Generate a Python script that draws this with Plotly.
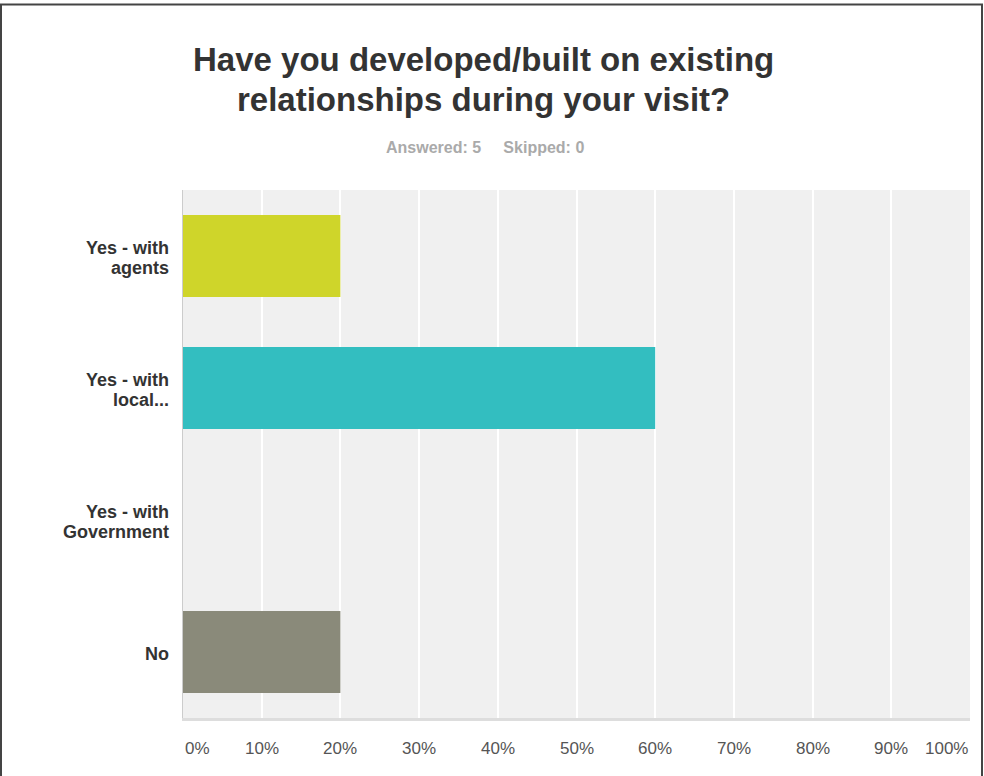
import plotly.graph_objects as go

categories = ["Yes - with<br>agents", "Yes - with<br>local...", "Yes - with<br>Government", "No"]
values = [20, 60, 0, 20]
bar_colors = ["#cfd52a", "#33bec0", "#cccccc", "#8a8a7a"]
tick_vals = [0, 10, 20, 30, 40, 50, 60, 70, 80, 90, 100]
tick_text = ["0%", "10%", "20%", "30%", "40%", "50%", "60%", "70%", "80%", "90%", "100%"]
title_lines = ["Have you developed/built on existing", "relationships during your visit?"]
subtitle = "Answered: 5&nbsp;&nbsp;&nbsp;&nbsp;&nbsp;Skipped: 0"

W, H = 984, 776
ML, MR, MT, MB = 183, 14, 190, 58
PW = W - ML - MR
PH = H - MT - MB
FONT = "Liberation Sans, Arial"


def py(pix_y):
    """convert a page pixel y to paper coordinate"""
    return (H - MB - pix_y) / PH


fig = go.Figure()
fig.add_trace(go.Bar(
    x=values, y=categories, orientation="h",
    marker=dict(color=bar_colors, line=dict(width=0)),
    hoverinfo="x+y",
))

annotations = []
# x tick labels (first/last kept inside the plot width)
for v, t in zip(tick_vals, tick_text):
    anchor = "left" if v == tick_vals[0] else ("right" if v == tick_vals[-1] else "center")
    annotations.append(dict(
        x=v, y=py(748), xref="x", yref="paper", text=t, showarrow=False,
        xanchor=anchor, yanchor="middle",
        font=dict(family=FONT, size=17, color="#555555"),
    ))

# y category labels with tight line spacing
for cat in categories:
    lines = cat.split("<br>")
    n = len(lines)
    for i, ln in enumerate(lines):
        shift = ((n - 1) / 2 - i) * 20 - 2
        annotations.append(dict(
            x=0, y=cat, xref="paper", yref="y", text="<b>" + ln + "</b>",
            showarrow=False, xanchor="right", yanchor="middle",
            xshift=-12, yshift=shift,
            font=dict(family=FONT, size=18, color="#333333"),
        ))

for line, cy in zip(title_lines, [59, 99]):
    annotations.append(dict(
        x=(483 - ML) / PW, y=py(cy), xref="paper", yref="paper",
        text="<b>" + line + "</b>",
        showarrow=False, xanchor="center", yanchor="middle",
        font=dict(family=FONT, size=33, color="#333333"),
    ))
annotations.append(dict(
    x=(485 - ML) / PW, y=py(148), xref="paper", yref="paper",
    text="<b>" + subtitle + "</b>",
    showarrow=False, xanchor="center", yanchor="middle",
    font=dict(family=FONT, size=16, color="#aaaaaa"),
))

shapes = [dict(
    type="rect", xref="paper", yref="paper",
    x0=(1 - ML) / PW, x1=(982 - ML) / PW,
    y0=-(MB + 20) / PH, y1=py(4.5),
    line=dict(color="#444444", width=2), fillcolor="rgba(0,0,0,0)", layer="above",
)]

fig.update_layout(
    width=W, height=H,
    margin=dict(l=ML, r=MR, t=MT, b=MB),
    paper_bgcolor="white", plot_bgcolor="#f0f0f0",
    bargap=0.38, showlegend=False,
    font=dict(family=FONT, size=13, color="#333333"),
    annotations=annotations, shapes=shapes,
    xaxis=dict(range=[0, 100], tickvals=tick_vals, showticklabels=False,
               showgrid=True, gridcolor="white", gridwidth=2, zeroline=False,
               showline=True, linecolor="#dddddd", linewidth=3, fixedrange=True),
    yaxis=dict(autorange="reversed", showgrid=False, zeroline=False,
               showline=True, linecolor="#cccccc", linewidth=1,
               showticklabels=False, fixedrange=True),
)

fig.write_html("out.html", config={"displayModeBar": False})
